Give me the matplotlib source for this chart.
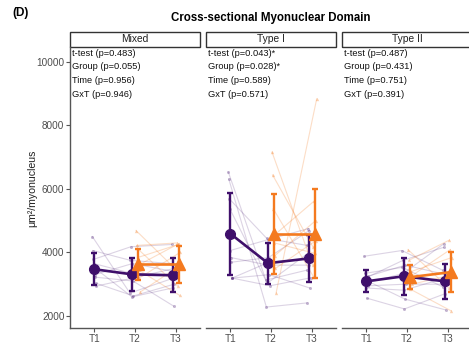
import numpy as np
import matplotlib
matplotlib.use('Agg')
import matplotlib.pyplot as plt
from matplotlib.patches import Rectangle

plt.rcParams['font.family'] = ['Liberation Sans', 'DejaVu Sans']

# facets and time points
panels = ['Mixed', 'Type I', 'Type II']
times = ['T1', 'T2', 'T3']

stats_text = {
    'Mixed': ['t-test (p=0.483)', 'Group (p=0.055)', 'Time (p=0.956)', 'GxT (p=0.946)'],
    'Type I': ['t-test (p=0.043)*', 'Group (p=0.028)*', 'Time (p=0.589)', 'GxT (p=0.571)'],
    'Type II': ['t-test (p=0.487)', 'Group (p=0.431)', 'Time (p=0.751)', 'GxT (p=0.391)'],
}

# individual subjects, purple group (T1, T2, T3)
mixed_p_t1 = [4500, 4060, 3780, 3650, 3520, 3300, 3220, 3030, 2940]
mixed_p_t2 = [2720, 3750, 4180, 3340, 2600, 3650, 3100, 2630, 3200]
mixed_p_t3 = [3160, 3650, 4250, 3310, 2880, 3400, 2310, 3000, 3500]
typeI_p_t1 = [6530, 6310, 5690, 5380, 4060, 3840, 3690, 3190, 3190, 3190]
typeI_p_t2 = [3130, 2280, 4440, 3030, 4400, 3600, 3840, 3300, 3700, 2950]
typeI_p_t3 = [3440, 2410, 4220, 3970, 4750, 3600, 4690, 2880, 3800, 3200]
typeII_p_t1 = [3880, 3340, 3190, 3030, 2880, 2560, 3100, 3250, 2950]
typeII_p_t2 = [4060, 3530, 3750, 3340, 2810, 2220, 2530, 3600, 3000]
typeII_p_t3 = [3440, 2910, 4160, 4280, 3190, 2700, 2190, 3300, 3000]

# individual subjects, orange group (T2, T3)
mixed_o_t2 = [4690, 4220, 4130, 3840, 3600, 3440, 3200, 2750]
mixed_o_t3 = [3440, 4300, 2940, 4250, 4280, 2650, 4000, 3600]
typeI_o_t2 = [7160, 6440, 5380, 4530, 4300, 3900, 3500, 2720]
typeI_o_t3 = [3600, 4160, 3220, 5625, 3970, 5000, 4375, 8840]
typeII_o_t2 = [4090, 3750, 3220, 2840, 3400, 3000]
typeII_o_t3 = [2880, 4390, 4090, 2160, 3840, 3300]

# group means and SD
p_mean = {'Mixed': [3470, 3310, 3280], 'Type I': [4590, 3660, 3810], 'Type II': [3090, 3250, 3090]}
p_sd = {'Mixed': [500, 530, 540], 'Type I': [1290, 645, 750], 'Type II': [345, 575, 560]}
o_mean = {'Mixed': [3620, 3620], 'Type I': [4590, 4590], 'Type II': [3220, 3380]}
o_sd = {'Mixed': [490, 580], 'Type I': [1265, 1400], 'Type II': [370, 635]}

indiv_p = {'Mixed': [mixed_p_t1, mixed_p_t2, mixed_p_t3],
           'Type I': [typeI_p_t1, typeI_p_t2, typeI_p_t3],
           'Type II': [typeII_p_t1, typeII_p_t2, typeII_p_t3]}
indiv_o = {'Mixed': [mixed_o_t2, mixed_o_t3],
           'Type I': [typeI_o_t2, typeI_o_t3],
           'Type II': [typeII_o_t2, typeII_o_t3]}

purple = '#3F0F6B'
orange = '#F47A1F'
axcol = '#555555'
txtcol = '#4D4D4D'

W, H = 469, 343
fig = plt.figure(figsize=(W / 100, H / 100), dpi=100)

panel_left = [70, 206, 342]
panel_w = 130
top, bottom = 47, 328

fig.text(12 / W, 1 - 13 / H, '(D)', fontsize=8.5, fontweight='bold', va='center', ha='left')
fig.text(271 / W, 1 - 18 / H, 'Cross-sectional Myonuclear Domain', fontsize=8.3,
         fontweight='bold', va='center', ha='center')
fig.text(32 / W, 1 - 188 / H, 'μm²/myonucleus', fontsize=7.6, rotation=90,
         va='center', ha='center', color='#222222')

xp = np.arange(1, 4)
dodge = 0.075

for k, name in enumerate(panels):
    ax = fig.add_axes([panel_left[k] / W, 1 - bottom / H, panel_w / W, (bottom - top) / H])
    ax.set_xlim(0.4, 3.6)
    ax.set_ylim(1620, 10470)

    # individual trajectories
    pv = np.array(indiv_p[name])
    n = pv.shape[1]
    jit = np.linspace(-0.05, 0.05, n)
    pxs = np.array([xp[0] + jit, xp[1] - dodge + jit, xp[2] - dodge + jit])
    for j in range(n):
        ax.plot(pxs[:, j], pv[:, j], '-', color=purple, alpha=0.18, lw=0.8, zorder=1)
        ax.plot(pxs[:, j], pv[:, j], 'o', color=purple, alpha=0.3, ms=2.2, mew=0, zorder=1)

    ov = np.array(indiv_o[name])
    m = ov.shape[1]
    jit = np.linspace(-0.05, 0.05, m)
    oxs = np.array([xp[1] + dodge + jit, xp[2] + dodge + jit])
    for j in range(m):
        ax.plot(oxs[:, j], ov[:, j], '-', color=orange, alpha=0.25, lw=0.8, zorder=1)
        ax.plot(oxs[:, j], ov[:, j], '^', color=orange, alpha=0.35, ms=2.4, mew=0, zorder=1)

    # group means with SD error bars
    pmx = [xp[0], xp[1] - dodge, xp[2] - dodge]
    ax.errorbar(pmx, p_mean[name], yerr=p_sd[name], color=purple, lw=1.9,
                elinewidth=1.7, capsize=2.2, capthick=1.7, marker='o', ms=7, zorder=3)
    omx = [xp[1] + dodge, xp[2] + dodge]
    ax.errorbar(omx, o_mean[name], yerr=o_sd[name], color=orange, lw=1.9,
                elinewidth=1.7, capsize=2.2, capthick=1.7, marker='^', ms=8, zorder=4)

    # stats annotations
    for i, line in enumerate(stats_text[name]):
        ax.text(2.0 / panel_w, 1 - (6 + 13.7 * i) / (bottom - top), line, transform=ax.transAxes,
                fontsize=6.7, va='center', ha='left', color='#111111')

    # strip header
    sh = 15 / (bottom - top)
    ax.add_patch(Rectangle((0, 1.0), 1, sh, transform=ax.transAxes, fill=False,
                           edgecolor='#333333', lw=1.0, clip_on=False))
    ax.text(0.5, 1 + sh / 2, name, transform=ax.transAxes, fontsize=7.4,
            ha='center', va='center', color='#222222')

    for s in ['top', 'right']:
        ax.spines[s].set_visible(False)
    ax.spines['bottom'].set_color(axcol)
    ax.spines['bottom'].set_linewidth(1.0)
    ax.set_xticks(xp)
    ax.set_xticklabels(times)
    ax.tick_params(axis='x', colors=axcol, labelcolor=txtcol, labelsize=7.2, length=3, pad=1)
    if k == 0:
        ax.spines['left'].set_color(axcol)
        ax.spines['left'].set_linewidth(1.0)
        ax.set_yticks([2000, 4000, 6000, 8000, 10000])
        ax.tick_params(axis='y', colors=axcol, labelcolor=txtcol, labelsize=7.2, length=3, pad=1)
    else:
        ax.spines['left'].set_visible(False)
        ax.set_yticks([])

fig.savefig('out.png', dpi=100)
